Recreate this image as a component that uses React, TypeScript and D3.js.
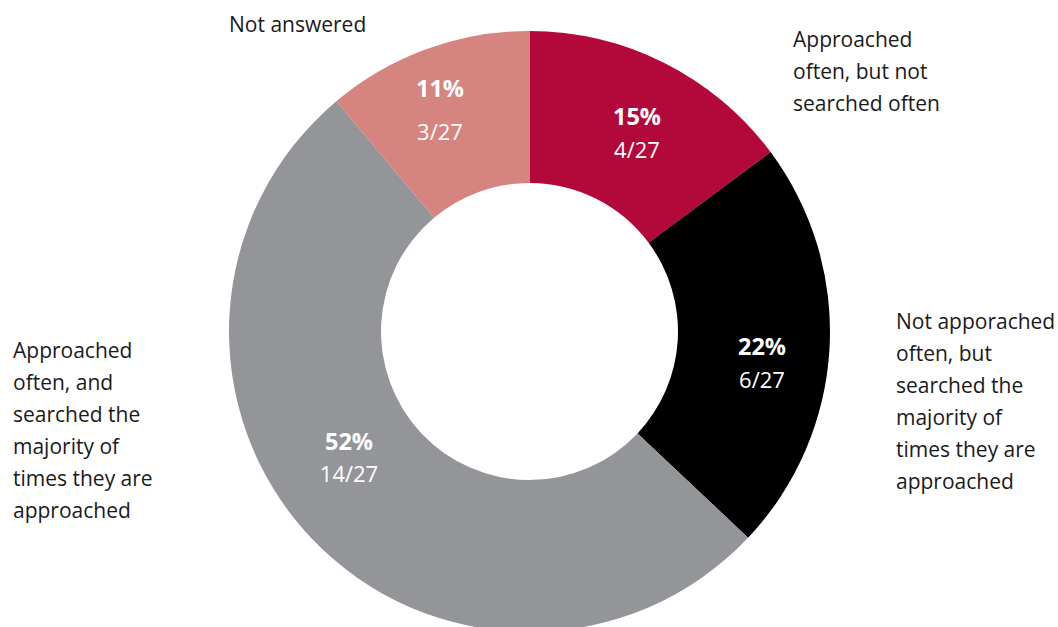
import React from "react";
import * as d3 from "d3";

const categories = [
  "Approached often, but not searched often",
  "Not apporached often, but searched the majority of times they are approached",
  "Approached often, and searched the majority of times they are approached",
  "Not answered",
];
const counts = [4, 6, 14, 3];
const total = 27;
const percentLabels = ["15%", "22%", "52%", "11%"];
const colors = ["#B3093A", "#000000", "#939598", "#D58480"];

// outside label text, split into lines
const outsideLines = [
  ["Approached", "often, but not", "searched often"],
  ["Not apporached", "often, but", "searched the", "majority of", "times they are", "approached"],
  ["Approached", "often, and", "searched the", "majority of", "times they are", "approached"],
  ["Not answered"],
];

// layout (positions of text blocks)
const outsidePos = [
  { x: 793, y: 47 },
  { x: 896, y: 329 },
  { x: 13, y: 358 },
  { x: 229, y: 32 },
];
const insidePos = [
  { x: 637, y1: 125, y2: 158 },
  { x: 762, y1: 355, y2: 388 },
  { x: 349, y1: 450, y2: 482 },
  { x: 440, y1: 97, y2: 140 },
];

const W = 1058;
const H = 627;
const cx = 529.5;
const cy = 331.5;
const outerR = 300.5;
const innerR = 148.5;
const FONT = "'Open Sans', 'Noto Sans', sans-serif";

export default function App() {
  const pie = d3
    .pie<number>()
    .sort(null)
    .value((d) => d)
    .startAngle(0)
    .endAngle(2 * Math.PI);
  const arcs = pie(counts);
  const arc = d3.arc<d3.PieArcDatum<number>>().innerRadius(innerR).outerRadius(outerR);

  return (
    <svg
      width={W}
      height={H}
      style={{ position: "absolute", left: 0, top: 0, background: "#fff" }}
      fontFamily={FONT}
    >
      <g transform={`translate(${cx},${cy})`}>
        {arcs.map((a, i) => (
          <path key={i} d={arc(a) || ""} fill={colors[i]} />
        ))}
      </g>
      {arcs.map((a, i) => (
        <g key={"l" + i} fill="#fff" textAnchor="middle">
          <text x={insidePos[i].x} y={insidePos[i].y1} fontSize={23.5} fontWeight={700}>
            {percentLabels[i]}
          </text>
          <text x={insidePos[i].x} y={insidePos[i].y2} fontSize={22}>
            {`${a.data}/${total}`}
          </text>
        </g>
      ))}
      {outsideLines.map((lines, i) => (
        <text key={"o" + i} x={outsidePos[i].x} y={outsidePos[i].y} fontSize={21} fill="#1a1a1a">
          {lines.map((ln, j) => (
            <tspan key={j} x={outsidePos[i].x} y={outsidePos[i].y + j * 32}>
              {ln}
            </tspan>
          ))}
        </text>
      ))}
      <title>{categories.join("; ")}</title>
    </svg>
  );
}
